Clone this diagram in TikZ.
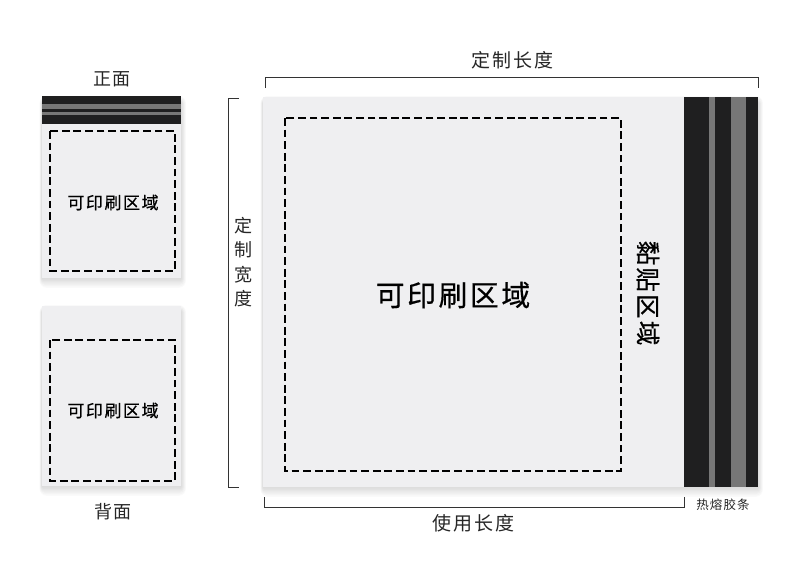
\documentclass[tikz,border=0pt]{standalone}
\usepackage{fontspec}
\newfontfamily\cjk[LetterSpace=9]{Noto Sans CJK SC}
\newfontfamily\cjkmed[LetterSpace=9,FakeBold=0.5]{Noto Sans CJK SC}
\usetikzlibrary{calc}
\definecolor{sheetgray}{HTML}{EFEFF1}
\definecolor{stripdark}{HTML}{1F1F20}
\definecolor{stripgray}{HTML}{777777}
\def\softshadow(#1)(#2){\foreach \s in {7,6,...,1} {\fill[black, opacity=0.02, rounded corners=\s pt] ($(#1)+(-\s*0.35, 6-\s)$) rectangle ($(#2)+(\s*0.7, \s*1.4)$);}}
\tikzset{
	sheet/.style={fill=sheetgray},
	printarea/.style={draw=black, line width=1.9pt, dash pattern=on 7.8pt off 3.8pt},
	bracket/.style={draw=black!80, line width=1pt},
	cjklabel/.style={inner sep=0pt, text=black!85, font=\cjk\fontsize{#1}{#1}\selectfont},
	cjkstrong/.style={inner sep=0pt, text=black, font=\cjkmed\fontsize{#1}{#1}\selectfont},
}

\begin{document}
\begin{tikzpicture}[x=1pt, y=-1pt]
		\useasboundingbox (0, 0) rectangle (790, 563);
		%%%%% START %%%%%

		% main sheet
		\softshadow(263, 97)(758, 487);
		\fill[sheet] (263, 97) rectangle (758, 487);
		\fill[stripdark] (684, 97) rectangle (758, 487);
		\fill[stripgray] (708.5, 97) rectangle (715, 487);
		\fill[stripgray] (731, 97) rectangle (745.5, 487);
		\draw[printarea] (285, 118) rectangle (621, 471);

		% front
		\softshadow(42, 97)(181, 278);
		\fill[sheet] (42, 97) rectangle (181, 278);
		\fill[stripdark] (42, 96) rectangle (181, 123.5);
		\fill[stripgray] (42, 104) rectangle (181, 109);
		\fill[stripgray] (42, 112) rectangle (181, 115);
		\draw[printarea] (50, 131) rectangle (175, 271);

		% back
		\softshadow(42, 306)(181, 486);
		\fill[sheet] (42, 306) rectangle (181, 486);
		\draw[printarea] (50, 340) rectangle (175, 481);

		% brackets
		\draw[bracket] (265, 88) -- (265, 77) -- (758, 77) -- (758, 88);
		\draw[bracket] (239, 98) -- (228, 98) -- (228, 487) -- (239, 487);
		\draw[bracket] (264, 497) -- (264, 507) -- (684, 507) -- (684, 497);

		% labels
		\node[cjklabel=18] (front) at (112, 79.5) {正面};
		\node[cjklabel=18] (back) at (113, 512) {背面};
		\node[cjkstrong=17] (frontarea) at (113, 202.5) {可印刷区域};
		\node[cjkstrong=17] (backarea) at (113, 410.5) {可印刷区域};
		\node[cjkstrong=28.8] (mainarea) at (453, 295) {可印刷区域};
		\node[cjklabel=19] (customlen) at (512.5, 60) {定制长度};
		\node[cjklabel=18, align=center, font=\cjk\fontsize{18}{24.4}\selectfont] (customwid) at (243, 262) {定\\制\\宽\\度};
		\node[cjklabel=19] (uselen) at (473.5, 523) {使用长度};
		\node[cjkstrong=24.5, rotate=-90] (gluearea) at (648, 293) {黏贴区域};
		\node[cjklabel=12.5] (hotmelt) at (723, 504.5) {热熔胶条};

		%%%%% END %%%%%
	\end{tikzpicture}
\end{document}
